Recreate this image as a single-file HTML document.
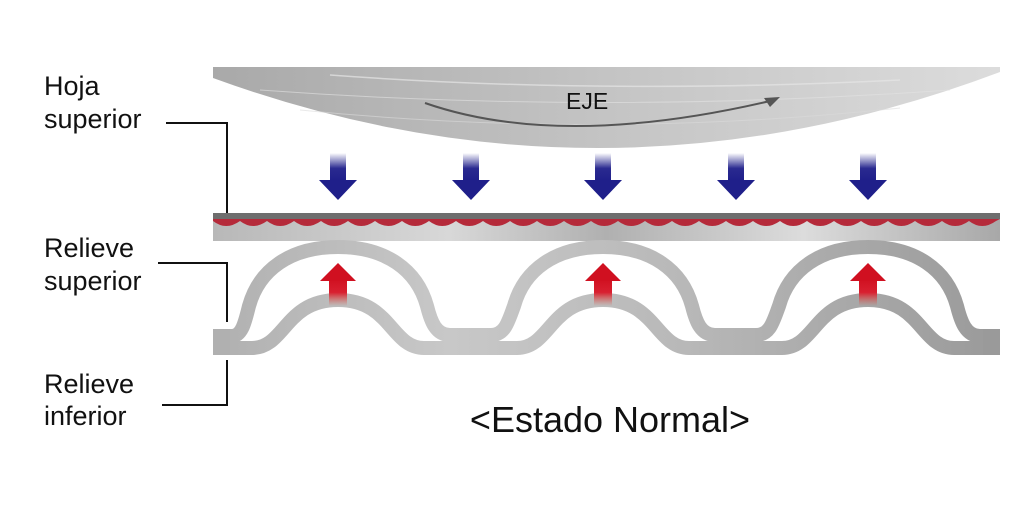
<!DOCTYPE html>
<html><head><meta charset="utf-8"><style>
html,body{margin:0;padding:0;background:#fff;}
svg{display:block;}
text{font-family:"Liberation Sans",Arial,sans-serif;fill:#111;}
</style></head><body>
<svg width="1024" height="512" viewBox="0 0 1024 512" xmlns="http://www.w3.org/2000/svg">
<defs>
<linearGradient id="cyl" x1="0" y1="0" x2="1" y2="0">
<stop offset="0" stop-color="#a9a9a9"/><stop offset="0.5" stop-color="#c4c4c4"/><stop offset="1" stop-color="#dcdcdc"/>
</linearGradient>
<linearGradient id="blue" x1="0" y1="0" x2="0" y2="1">
<stop offset="0" stop-color="#2a2a90" stop-opacity="0"/><stop offset="0.55" stop-color="#2a2a90"/><stop offset="1" stop-color="#1f1f8a"/>
</linearGradient>
<linearGradient id="red" x1="0" y1="0" x2="0" y2="1">
<stop offset="0" stop-color="#d01020"/><stop offset="0.5" stop-color="#d82030"/><stop offset="1" stop-color="#e05040" stop-opacity="0"/>
</linearGradient>
<linearGradient id="plate" x1="0" y1="0" x2="1" y2="0">
<stop offset="0" stop-color="#b8b8b8"/><stop offset="0.3" stop-color="#d8d8d8"/><stop offset="0.5" stop-color="#b0b0b0"/><stop offset="0.75" stop-color="#dcdcdc"/><stop offset="1" stop-color="#a8a8a8"/>
</linearGradient>
<linearGradient id="relief" x1="0" y1="0" x2="1" y2="0">
<stop offset="0" stop-color="#b0b0b0"/><stop offset="0.3" stop-color="#c8c8c8"/><stop offset="0.6" stop-color="#b8b8b8"/><stop offset="1" stop-color="#9a9a9a"/>
</linearGradient>
</defs>

<path d="M213,67 L1000,67 L1000,72 Q605,221 213,78 Z" fill="url(#cyl)"/>
<path d="M330,75 Q600,95 900,80" stroke="#e6e6e6" stroke-width="1.5" fill="none" opacity="0.7"/>
<path d="M260,90 Q600,115 950,90" stroke="#e2e2e2" stroke-width="1" fill="none" opacity="0.6"/>
<path d="M300,110 Q600,140 900,108" stroke="#dadada" stroke-width="1" fill="none" opacity="0.6"/>
<path d="M425,103 Q560,150 770,101" stroke="#555" stroke-width="2" fill="none"/>
<polygon points="780,97 764,98 770,107" fill="#555"/>
<text x="566" y="109" font-size="23">EJE</text>

<g fill="url(#blue)">
<g transform="translate(338,0)"><rect x="-8" y="153" width="16" height="28"/><polygon points="-19,180 19,180 0,200" fill="#1f1f8a"/></g>
<g transform="translate(471,0)"><rect x="-8" y="153" width="16" height="28"/><polygon points="-19,180 19,180 0,200" fill="#1f1f8a"/></g>
<g transform="translate(603,0)"><rect x="-8" y="153" width="16" height="28"/><polygon points="-19,180 19,180 0,200" fill="#1f1f8a"/></g>
<g transform="translate(736,0)"><rect x="-8" y="153" width="16" height="28"/><polygon points="-19,180 19,180 0,200" fill="#1f1f8a"/></g>
<g transform="translate(868,0)"><rect x="-8" y="153" width="16" height="28"/><polygon points="-19,180 19,180 0,200" fill="#1f1f8a"/></g>
</g>

<rect x="213" y="213" width="787" height="28" fill="url(#plate)"/>
<rect x="213" y="213" width="787" height="6" fill="#6e6e6e"/>
<path d="M213,221 q13,10 27,0 q13,10 27,0 q13,10 27,0 q13,10 27,0 q13,10 27,0 q13,10 27,0 q13,10 27,0 q13,10 27,0 q13,10 27,0 q13,10 27,0 q13,10 27,0 q13,10 27,0 q13,10 27,0 q13,10 27,0 q13,10 27,0 q13,10 27,0 q13,10 27,0 q13,10 27,0 q13,10 27,0 q13,10 27,0 q13,10 27,0 q13,10 27,0 q13,10 27,0 q13,10 27,0 q13,10 27,0 q13,10 27,0 q13,10 27,0 q13,10 27,0 q13,10 27,0 L1000,219 L213,219 Z" fill="#b52a3a"/>

<g fill="none" stroke="url(#relief)" stroke-width="14">
<path d="M213,336 L232,336 C242,336 245,322 249,306 C259,270 290,247 338,247 C386,247 417,270 427,306 C431,322 436,335 450,335
 L491,335 C505,335 508,322 514,306 C524,270 555,247 603,247 C651,247 682,270 692,306 C696,322 701,335 715,335
 L756,335 C770,335 773,322 779,306 C789,270 820,247 868,247 C916,247 947,270 957,306 C961,322 966,336 980,336 L1000,336"/>
<path d="M213,348 L252,348 C285,348 285,300 338,300 C391,300 391,348 424,348 L517,348 C550,348 550,300 603,300 C656,300 656,348 689,348 L782,348 C815,348 815,300 868,300 C921,300 921,348 954,348 L1000,348"/>
</g>
<rect x="213" y="329" width="17" height="26" fill="#b0b0b0"/>
<rect x="983" y="329" width="17" height="26" fill="#9a9a9a"/>

<g>
<g transform="translate(338,0)"><rect x="-9" y="279" width="18" height="27" fill="url(#red)"/><polygon points="-18,281 18,281 0,263" fill="#d01020"/></g>
<g transform="translate(603,0)"><rect x="-9" y="279" width="18" height="27" fill="url(#red)"/><polygon points="-18,281 18,281 0,263" fill="#d01020"/></g>
<g transform="translate(868,0)"><rect x="-9" y="279" width="18" height="27" fill="url(#red)"/><polygon points="-18,281 18,281 0,263" fill="#d01020"/></g>
</g>

<g fill="none" stroke="#111" stroke-width="2">
<polyline points="166,123 227,123 227,213"/>
<polyline points="158,263 227,263 227,322"/>
<polyline points="162,405 227,405 227,360"/>
</g>

<g font-size="27">
<text x="44" y="95">Hoja</text>
<text x="44" y="128">superior</text>
<text x="44" y="257">Relieve</text>
<text x="44" y="290">superior</text>
<text x="44" y="393">Relieve</text>
<text x="44" y="425">inferior</text>
</g>
<text x="610" y="432" font-size="36" text-anchor="middle">&lt;Estado Normal&gt;</text>
</svg>
</body></html>
